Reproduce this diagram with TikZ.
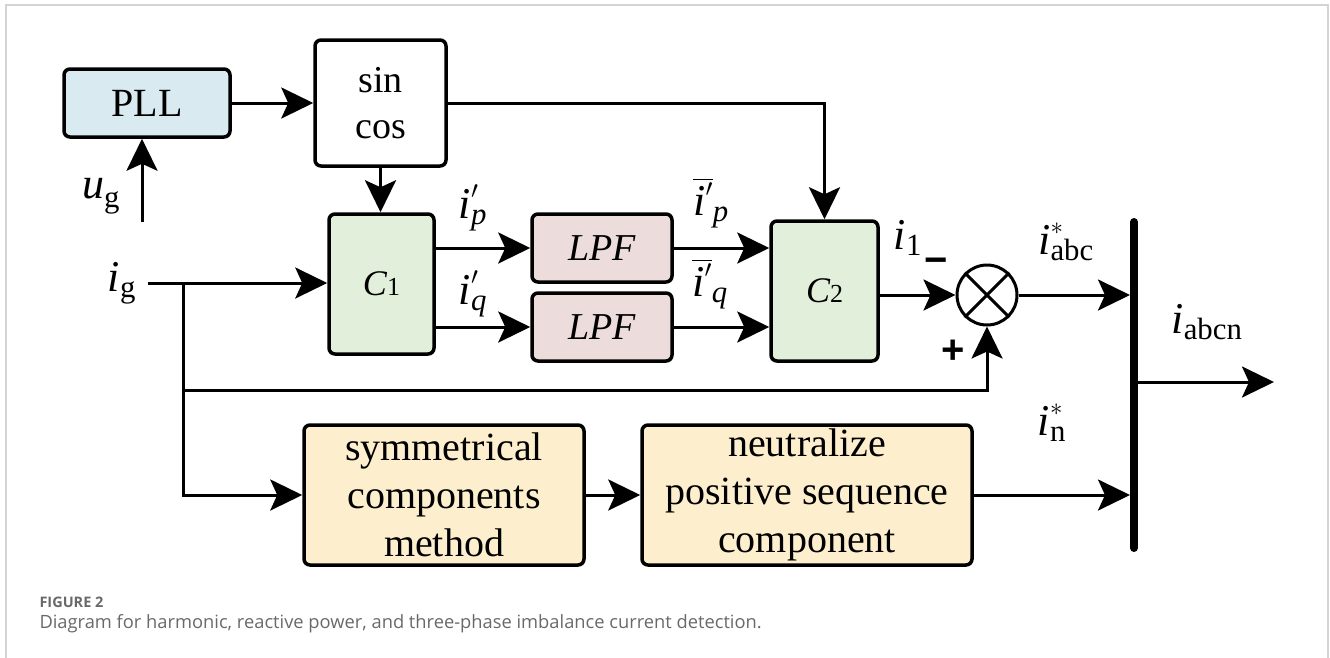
\documentclass[tikz,border=0pt]{standalone}
\usepackage{amsmath}
\usepackage{fontspec}
\setmainfont{Liberation Serif}
\setsansfont{Liberation Sans}
\newfontfamily\captionfont{Open Sans}
\usepackage{tikz}
\usetikzlibrary{arrows.meta, positioning}
\definecolor{pllblue}{RGB}{217,235,241}
\definecolor{convgreen}{RGB}{226,239,218}
\definecolor{filterpink}{RGB}{237,220,220}
\definecolor{seqyellow}{RGB}{253,239,206}
\definecolor{framegray}{RGB}{212,212,212}
\definecolor{captiongray}{RGB}{105,105,105}

\begin{document}
\begin{tikzpicture}[
    x = 1pt, y = -1pt, % pixel units, y downward
    flow/.style = {-{Stealth[length=32pt, width=31pt, inset=7pt]}}, % arrow head style
    line width = 3pt
]
\useasboundingbox (0,0) rectangle (1330,657);

\tikzstyle{block}=[
    draw = black,
    line width = 3.5pt,
    rounded corners = 6pt,
    inner sep = 0pt,
    align = center,
    font = \fontsize{40}{48}\selectfont
]
\tikzstyle{signal}=[inner sep = 0pt, font = \fontsize{44}{50}\selectfont]
\tikzstyle{sign}=[inner sep = 0pt, font = \fontsize{40}{40}\selectfont\sffamily\bfseries]

% outer frame
\draw[framegray, line width = 2pt] (6,665) -- (6,5) -- (1328,5) -- (1328,665);

\node[block, fill = pllblue, minimum width = 166pt, minimum height = 68pt] (PLL) at (147,103) {PLL};
\node[block, fill = white, minimum width = 131pt, minimum height = 126pt, font = \fontsize{38}{46}\selectfont] (Sin Cos) at (380.5,103) {sin\\cos};
\node[block, fill = convgreen, minimum width = 105pt, minimum height = 140pt, font = \fontsize{36}{40}\selectfont] (C1) at (381.5,284) {\itshape C\upshape{\fontsize{26}{26}\selectfont 1}};
\node[block, fill = filterpink, minimum width = 140pt, minimum height = 68pt, font = \fontsize{38}{40}\selectfont\itshape] (Low Pass P) at (602,248) {LPF};
\node[block, fill = filterpink, minimum width = 140pt, minimum height = 68pt, font = \fontsize{38}{40}\selectfont\itshape] (Low Pass Q) at (602,327) {LPF};
\node[block, fill = convgreen, minimum width = 107pt, minimum height = 140pt, font = \fontsize{36}{40}\selectfont] (C2) at (824.5,291) {\itshape C\upshape{\fontsize{26}{26}\selectfont 2}};
\node[draw = black, circle, line width = 3pt, minimum size = 60pt, inner sep = 0pt] (Sum) at (987,295) {};
\node[block, fill = seqyellow, minimum width = 280pt, minimum height = 140pt] (Symmetrical Method) at (444,495) {symmetrical\\components\\method};
\node[block, fill = seqyellow, minimum width = 330pt, minimum height = 140pt] (Neutralize) at (807,495) {neutralize\\positive sequence\\component};

\draw (Sum.north west) -- (Sum.south east);
\draw (Sum.north east) -- (Sum.south west);

\coordinate (Ug Start) at (142,222);
\coordinate (Ig Start) at (148,283);
\coordinate (Branch) at (183,283);
\coordinate (Plus Corner) at (183,390);
\coordinate (Bus Top) at (1134,222);
\coordinate (Bus Bottom) at (1134,548);
\coordinate (Out End) at (1274,382);

% bus bar
\draw[line width = 8pt, line cap = round] (Bus Top) -- (Bus Bottom);

\path[flow] (Ug Start) edge (Ug Start |- PLL.south);
\path[flow] (PLL.east) edge (PLL.east -| Sin Cos.west);
\path[flow] (Sin Cos.south) edge (Sin Cos.south |- C1.north);
\draw[flow] (Sin Cos.east |- PLL.east) -| (C2.north);
\path[flow] (Ig Start) edge (Ig Start -| C1.west);
\path[flow] (C1.east |- Low Pass P) edge (Low Pass P.west);
\path[flow] (C1.east |- Low Pass Q) edge (Low Pass Q.west);
\path[flow] (Low Pass P.east) edge (Low Pass P.east -| C2.west);
\path[flow] (Low Pass Q.east) edge (Low Pass Q.east -| C2.west);
\path[flow] (C2.east |- Sum) edge (Sum.west);
\path[flow, shorten > = 4pt] (Sum.east) edge (Sum.east -| Bus Top);
\draw[flow] (Branch) |- (Symmetrical Method.west);
\draw[flow] (Plus Corner) -| (Sum.south);
\path[flow] (Symmetrical Method.east) edge (Neutralize.west);
\path[flow, shorten > = 4pt] (Neutralize.east) edge (Neutralize.east -| Bus Top);
\path[flow] (Bus Top |- Out End) edge (Out End);

% signal labels
\node[signal] (Ug Label) at (101,196) {$\text{\itshape u}^{}_{\text{g}}$};
\node[signal] (Ig Label) at (122,283) {$\text{\itshape i}^{}_{\text{g}}$};
\node[signal] (Ip Label) at (473,208) {$\text{\itshape i}'_{\text{\itshape p}}$};
\node[signal] (Iq Label) at (473,294) {$\text{\itshape i}'_{\text{\itshape q}}$};
\node[signal] (Ip Bar Label) at (711,203) {$\overline{\text{\itshape i}'}_{\text{\itshape p}}$};
\node[signal] (Iq Bar Label) at (710,284) {$\overline{\text{\itshape i}'}_{\text{\itshape q}}$};
\node[signal] (I1 Label) at (908,238) {$\text{\itshape i}^{}_{\text{1}}$};
\node[signal] (Iabc Label) at (1066,242) {$\text{\itshape i}^{*}_{\text{abc}}$};
\node[signal] (Iabcn Label) at (1207,322) {$\text{\itshape i}^{}_{\text{abcn}}$};
\node[signal] (In Label) at (1052,423) {$\text{\itshape i}^{*}_{\text{n}}$};
\node[sign] (Minus Sign) at (936,266) {−};
\node[sign] (Plus Sign) at (953,352) {+};

% caption
\node[anchor = base west, inner sep = 0pt, text = captiongray, font = \captionfont\bfseries\fontsize{14.5}{16}\selectfont] (Figure Tag) at (38,607) {FIGURE 2};
\node[anchor = base west, inner sep = 0pt, text = captiongray, font = \captionfont\fontsize{18.3}{21}\selectfont] (Caption Text) at (38,628) {Diagram for harmonic, reactive power, and three-phase imbalance current detection.};
\end{tikzpicture}
\end{document}
